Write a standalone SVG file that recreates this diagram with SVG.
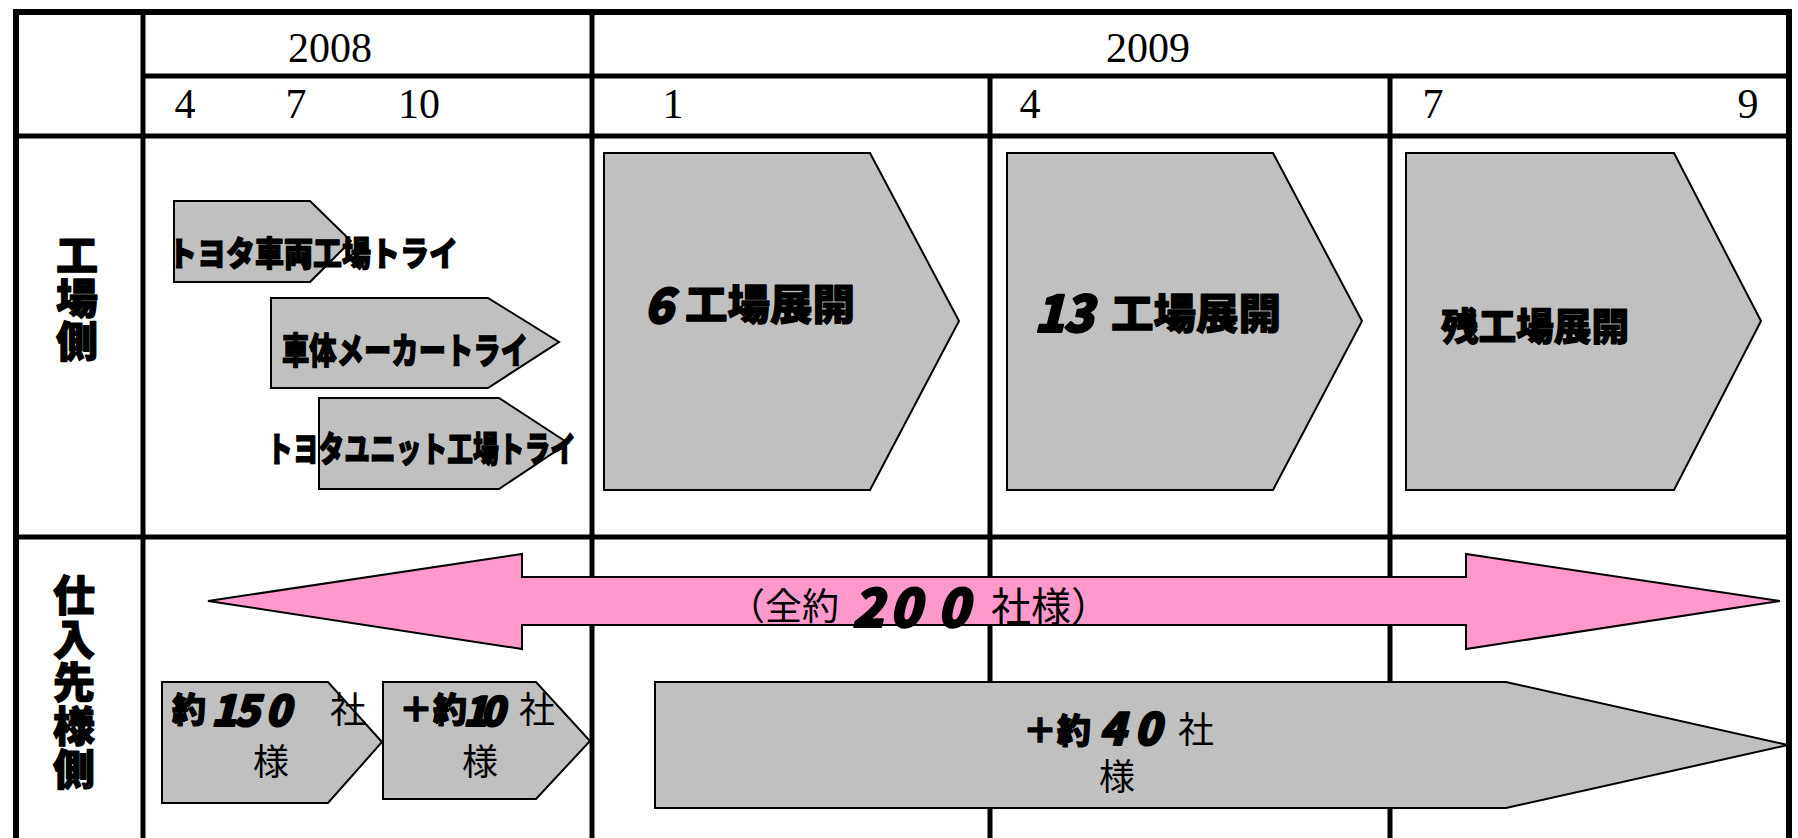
<svg xmlns="http://www.w3.org/2000/svg" width="1798" height="838" viewBox="0 0 1798 838">
<style>
.grid{stroke:#000;stroke-width:5;fill:none}
.outer{stroke:#000;stroke-width:6;fill:none}
.chev{fill:#C0C0C0;stroke:#000;stroke-width:2;stroke-linejoin:miter}
.pink{fill:#FF99CC;stroke:#000;stroke-width:2}
.hdr{font-family:"Liberation Serif","Times New Roman",serif;font-size:42px;fill:#000;text-anchor:middle}
.pop{font-family:"Noto Sans CJK JP",sans-serif;font-weight:900;fill:#000;stroke:#000;stroke-width:1.2;stroke-linejoin:round}
.dig{font-family:"Noto Sans CJK JP",sans-serif;font-weight:900;font-style:italic;fill:#000;stroke:#000;stroke-width:2;stroke-linejoin:round}
.reg{font-family:"Noto Sans CJK JP",sans-serif;font-weight:normal;fill:#000}
.vert{writing-mode:vertical-rl;text-anchor:start}
</style>
<rect width="1798" height="838" fill="#fff"/>
<g id="grid">
<rect class="outer" x="16" y="12" width="1773" height="830"/>
<line class="grid" x1="143" y1="12" x2="143" y2="838"/>
<line class="grid" x1="592" y1="12" x2="592" y2="838"/>
<line class="grid" x1="990" y1="76" x2="990" y2="838"/>
<line class="grid" x1="1390" y1="76" x2="1390" y2="838"/>
<line class="grid" x1="143" y1="76" x2="1789" y2="76"/>
<line class="grid" x1="16" y1="136" x2="1789" y2="136"/>
<line class="grid" x1="16" y1="537" x2="1789" y2="537"/>
</g>
<g id="header">
<text class="hdr" x="330" y="62">2008</text>
<text class="hdr" x="1148" y="62">2009</text>
<text class="hdr" x="185" y="118">4</text>
<text class="hdr" x="296" y="118">7</text>
<text class="hdr" x="419" y="118">10</text>
<text class="hdr" x="673" y="118">1</text>
<text class="hdr" x="1030" y="118">4</text>
<text class="hdr" x="1433" y="118">7</text>
<text class="hdr" x="1748" y="118">9</text>
</g>
<g id="label-factory">
<text class="pop vert" font-size="42" x="77" y="234" letter-spacing="1">工場側</text>
</g>
<g id="label-supplier">
<text class="pop vert" font-size="42" x="74" y="574" letter-spacing="1.6">仕入先様側</text>
</g>
<g id="connectors">
<polygon id="total-arrow" class="pink" points="208,601 522,554 522,577 1466,577 1466,554 1780,601 1466,649 1466,625 522,625 522,649"/>
</g>
<g id="node-toyota-vehicle">
<polygon class="chev" points="174,201 310,201 351,241 310,282 174,282"/>
<text class="pop" font-size="34" x="168" y="266" textLength="290" lengthAdjust="spacingAndGlyphs">トヨタ車両工場トライ</text>
</g>
<g id="node-body-maker">
<polygon class="chev" points="271,298 488,298 559,342 488,388 271,388"/>
<text class="pop" font-size="36" x="282" y="364" textLength="246" lengthAdjust="spacingAndGlyphs">車体メーカートライ</text>
</g>
<g id="node-toyota-unit">
<polygon class="chev" points="319,398 499,398 568,443 499,489 319,489"/>
<text class="pop" font-size="35" x="267" y="462" textLength="309" lengthAdjust="spacingAndGlyphs">トヨタユニット工場トライ</text>
</g>
<g id="node-6">
<polygon class="chev" points="604,153 870,153 959,321 870,490 604,490"/>
<text class="dig" font-size="48" x="644" y="323">6</text>
<text class="pop" font-size="42" x="685" y="320" textLength="170" lengthAdjust="spacingAndGlyphs">工場展開</text>
</g>
<g id="node-13">
<polygon class="chev" points="1007,153 1273,153 1362,321 1273,490 1007,490"/>
<text class="dig" font-size="50" x="1034 1063" y="332">13</text>
<text class="pop" font-size="42" x="1111" y="329" textLength="170" lengthAdjust="spacingAndGlyphs">工場展開</text>
</g>
<g id="node-rest">
<polygon class="chev" points="1406,153 1674,153 1761,321 1674,490 1406,490"/>
<text class="pop" font-size="38" x="1441" y="340" textLength="188" lengthAdjust="spacingAndGlyphs">残工場展開</text>
</g>
<g id="label-total">
<text class="reg" font-size="37" x="728" y="620">（全約</text>
<text class="dig" font-size="52" x="852 889 937" y="627">200</text>
<text class="reg" font-size="40" x="991" y="621">社様）</text>
</g>
<g id="node-150">
<polygon class="chev" points="162,682 328,682 382,742 328,803 162,803"/>
<text class="pop" font-size="34" x="172" y="722">約</text>
<text class="dig" font-size="42" x="211 234 265" y="726">150</text>
<text class="reg" font-size="36" x="330" y="723">社</text>
<text class="reg" font-size="36" x="253" y="775">様</text>
</g>
<g id="node-10">
<polygon class="chev" points="383,682 536,682 590,741 536,799 383,799"/>
<text class="pop" font-size="34" x="399" y="722">＋約</text>
<text class="dig" font-size="40" x="463 480" y="726">10</text>
<text class="reg" font-size="36" x="519" y="723">社</text>
<text class="reg" font-size="36" x="462" y="775">様</text>
</g>
<g id="node-40">
<polygon class="chev" points="655,682 1506,682 1788,745 1506,808 655,808"/>
<text class="pop" font-size="34" x="1023" y="743">＋約</text>
<text class="dig" font-size="44" x="1099 1134" y="745">40</text>
<text class="reg" font-size="36" x="1178" y="743">社</text>
<text class="reg" font-size="36" x="1099" y="790">様</text>
</g>
</svg>
